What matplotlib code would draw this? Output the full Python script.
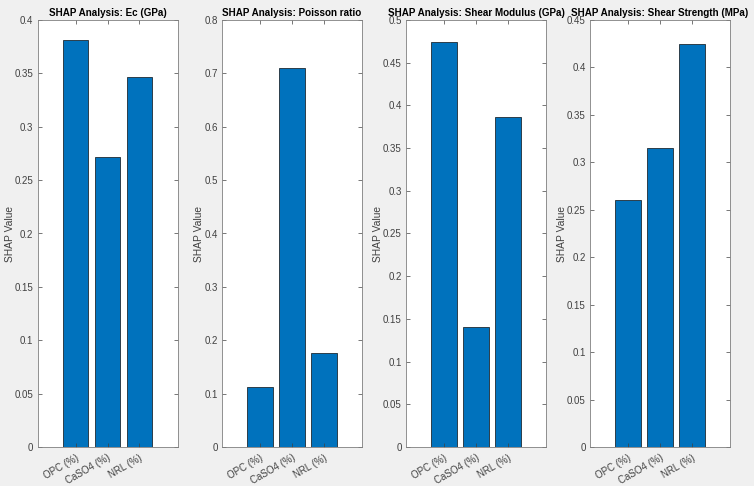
import matplotlib
matplotlib.use("Agg")
import matplotlib.pyplot as plt
from matplotlib.ticker import MultipleLocator, FuncFormatter

# data
features = ['OPC (%)', 'CaSO4 (%)', 'NRL (%)']
titles = ['SHAP Analysis: Ec (GPa)', 'SHAP Analysis: Poisson ratio',
          'SHAP Analysis: Shear Modulus (GPa)', 'SHAP Analysis: Shear Strength (MPa)']
ec_vals = [0.381, 0.272, 0.347]
poisson_vals = [0.112, 0.711, 0.176]
shear_mod_vals = [0.474, 0.140, 0.387]
shear_str_vals = [0.260, 0.315, 0.425]
all_vals = [ec_vals, poisson_vals, shear_mod_vals, shear_str_vals]
ytops = [0.4, 0.8, 0.5, 0.45]
ysteps = [0.05, 0.1, 0.05, 0.05]

plt.rcParams['font.family'] = ['Liberation Sans', 'DejaVu Sans']
axcol = '#404040'

fig = plt.figure(figsize=(7.54, 4.86), dpi=100, facecolor='#f0f0f0')
W, H = 754, 486
lefts = [37.5, 222, 406, 590]
aw = 140
top, bottom = 20, 447

fmt = FuncFormatter(lambda v, p: ('%g' % round(v, 4)))

for i in range(4):
    ax = fig.add_axes([lefts[i] / W, 1 - bottom / H, aw / W, (bottom - top) / H])
    ax.bar(range(1, 4), all_vals[i], width=0.8, color='#0072BD',
           edgecolor='#1f2a33', linewidth=0.6)
    ax.set_xlim(-0.2, 4.2)
    ax.set_ylim(0, ytops[i])
    ax.yaxis.set_major_locator(MultipleLocator(ysteps[i]))
    ax.yaxis.set_major_formatter(fmt)
    ax.set_xticks(range(1, 4))
    ax.set_xticklabels(features, rotation=30, ha='right', rotation_mode='anchor')
    ax.tick_params(direction='in', length=3, width=0.5, colors=axcol,
                   labelsize=7, top=True, right=True, pad=3)
    ax.tick_params(axis='x', pad=4)
    for s in ax.spines.values():
        s.set_color('#7f7f7f')
        s.set_linewidth(0.6)
    ax.set_title(titles[i], fontsize=7.1, fontweight='bold', color='black', pad=3)
    ax.set_ylabel('SHAP Value', fontsize=7.4, color=axcol, labelpad=0)

fig.savefig('out.png', dpi=100, facecolor=fig.get_facecolor())
